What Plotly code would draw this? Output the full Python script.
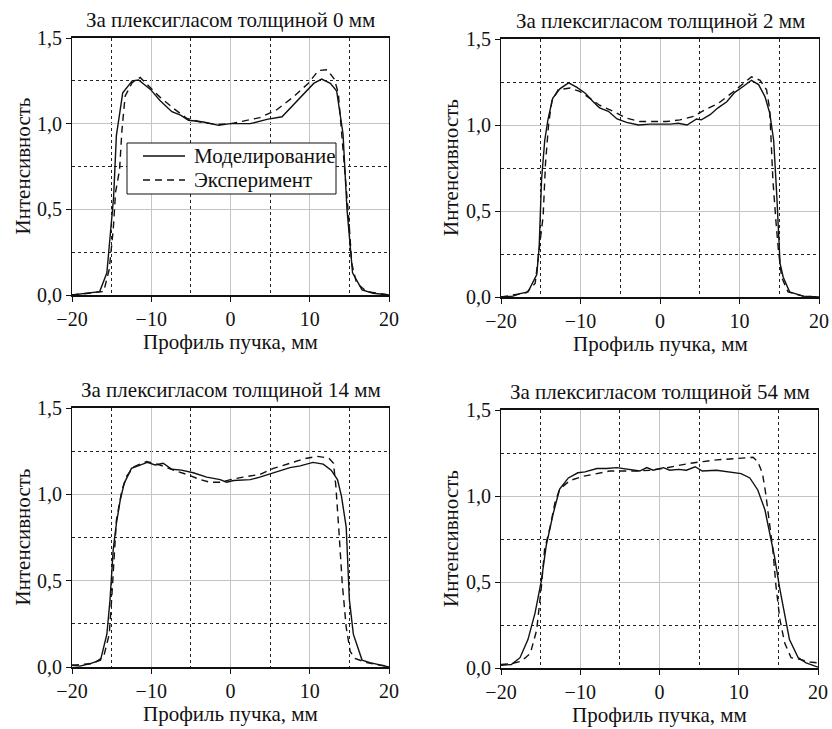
import plotly.graph_objects as go

# ---------------- data ----------------
titles = ["За плексигласом толщиной 0 мм", "За плексигласом толщиной 2 мм",
          "За плексигласом толщиной 14 мм", "За плексигласом толщиной 54 мм"]
series_names = ["Моделирование", "Эксперимент"]
x_title = "Профиль пучка, мм"
y_title = "Интенсивность"

# 0 mm
sim0_x = [-20, -18, -16.5, -15.6, -14.75, -14.4, -13.6, -12.4, -11.6, -10.1, -8.9, -7.4, -6.3, -5.3, -3.4, -1.5, 0,
          2.5, 4.6, 6.5, 8.8, 10.5, 11.5, 12.6, 13.4, 14.2, 14.7, 15.4, 16.6, 18, 20]
sim0_y = [0, 0.01, 0.02, 0.13, 0.57, 0.93, 1.18, 1.25, 1.255, 1.2, 1.135, 1.07, 1.05, 1.02, 1.01, 0.99, 1.0,
          1.0, 1.025, 1.04, 1.155, 1.235, 1.26, 1.235, 1.19, 0.94, 0.5, 0.13, 0.03, 0.01, 0]
exp0_x = [-20, -16, -15.3, -14.8, -14.5, -14.0, -13.7, -13.3, -12.4, -11.4, -10.1, -8.9, -7.2, -5.5, -3.4, -1.5, 0,
          1.8, 3.7, 5.8, 7.9, 9.8, 11.1, 12.2, 13.1, 13.6, 14.0, 14.5, 14.9, 15.3, 15.9, 17.2, 20]
exp0_y = [0, 0.02, 0.15, 0.38, 0.6, 0.73, 0.96, 1.16, 1.24, 1.27, 1.21, 1.155, 1.09, 1.03, 1.005, 0.995, 1.0,
          1.015, 1.035, 1.08, 1.155, 1.235, 1.31, 1.315, 1.26, 1.18, 0.96, 0.67, 0.46, 0.185, 0.07, 0.02, 0]

# 2 mm
sim2_x = [-20, -18.5, -17.6, -16.6, -15.5, -15.2, -14.9, -14.5, -14.1, -13.5, -12.6, -11.5, -10.5, -9.4, -8.4,
          -7.6, -6.5, -5.4, -4.2, -2.7, -1.3, 0, 1.3, 2.3, 3.4, 4.6, 5.2, 6.3, 7.3, 8.4, 9.4, 10.5, 11.5, 12.4,
          13.2, 13.8, 14.3, 14.7, 15.1, 15.5, 16.3, 18, 20]
sim2_y = [0, 0.005, 0.02, 0.03, 0.13, 0.29, 0.68, 0.91, 1.03, 1.155, 1.21, 1.245, 1.22, 1.185, 1.135,
          1.1, 1.08, 1.035, 1.015, 1.0, 1.005, 1.005, 1.005, 1.01, 1.0, 1.035, 1.03, 1.06, 1.1, 1.135, 1.19, 1.225,
          1.26, 1.235, 1.165, 1.07, 0.91, 0.58, 0.195, 0.115, 0.03, 0.005, 0]
exp2_x = [-20, -16.8, -15.7, -15.1, -14.7, -14.4, -14.0, -13.6, -12.8, -11.3, -10.1, -8.8, -7.6, -5.9, -4.2,
          -2.5, -1.0, 0.8, 2.5, 4.2, 5.7, 7.3, 9.0, 10.5, 11.5, 12.6, 13.4, 13.8, 14.0, 14.2, 14.6, 14.9, 15.3,
          16.1, 18, 20]
exp2_y = [0, 0.025, 0.08, 0.31, 0.47, 0.78, 1.01, 1.14, 1.205, 1.215, 1.195, 1.155, 1.115, 1.08, 1.04,
          1.02, 1.02, 1.02, 1.03, 1.05, 1.09, 1.125, 1.185, 1.245, 1.28, 1.26, 1.205, 1.09, 0.875, 0.68, 0.43,
          0.27, 0.115, 0.03, 0.005, 0]

# 14 mm
sim14_x = [-20, -19, -17.7, -16.4, -15.6, -15.2, -14.8, -14.4, -13.9, -13.4, -12.5, -11.4, -10.5, -9.5, -8.5,
           -7.4, -6.2, -4.7, -3.0, -1.3, -0.5, 0.4, 2.5, 3.7, 5.4, 7.5, 8.8, 10.4, 11.7, 12.7, 13.5, 14.0, 14.6,
           15.0, 15.5, 16.6, 17.6, 18.9, 20]
sim14_y = [0.01, 0.005, 0.02, 0.04, 0.19, 0.39, 0.68, 0.83, 0.97, 1.065, 1.15, 1.17, 1.185, 1.17, 1.18,
           1.145, 1.14, 1.125, 1.1, 1.085, 1.07, 1.08, 1.085, 1.1, 1.125, 1.155, 1.165, 1.185, 1.175, 1.14, 1.085,
           0.99, 0.81, 0.39, 0.19, 0.04, 0.025, 0.01, 0]
exp14_x = [-20, -17.3, -16.0, -15.3, -15.0, -14.7, -14.4, -13.7, -13.1, -12.2, -10.6, -8.9, -7.2, -5.5, -3.8,
           -2.6, -1.3, 0, 1.6, 3.7, 5.4, 7.5, 9.2, 10.9, 12.4, 13.0, 13.3, 13.7, 14.1, 14.6, 15.1, 15.7, 17.2,
           18.9, 20]
exp14_y = [0.01, 0.02, 0.06, 0.19, 0.39, 0.64, 0.85, 1.025, 1.105, 1.16, 1.19, 1.17, 1.14, 1.115, 1.085,
           1.07, 1.07, 1.085, 1.1, 1.115, 1.15, 1.18, 1.205, 1.22, 1.21, 1.18, 1.045, 0.775, 0.485, 0.23, 0.09,
           0.05, 0.025, 0.01, 0.005]

# 54 mm
sim54_x = [-20, -18.7, -17.6, -16.6, -15.7, -14.9, -14.3, -13.4, -12.6, -11.5, -10.3, -9.4, -7.9, -6.7, -5.4,
           -4.2, -2.5, -1.6, -0.8, 0.5, 1.3, 2.4, 3.4, 4.5, 5.4, 7.2, 8.9, 10.3, 11.4, 12.4, 13.3, 13.9, 14.5,
           15.2, 15.8, 16.4, 17.5, 18.5, 20]
sim54_y = [0.015, 0.02, 0.06, 0.165, 0.32, 0.51, 0.71, 0.9, 1.04, 1.105, 1.135, 1.14, 1.16, 1.16, 1.165,
           1.155, 1.145, 1.165, 1.15, 1.165, 1.15, 1.155, 1.15, 1.17, 1.145, 1.15, 1.14, 1.13, 1.105, 1.035, 0.92,
           0.785, 0.65, 0.455, 0.32, 0.165, 0.06, 0.03, 0.005]
exp54_x = [-20, -18.7, -17.4, -16.3, -15.5, -14.9, -14.5, -13.8, -13.2, -12.6, -11.3, -9.6, -7.9, -6.3, -4.6,
           -2.9, -1.2, 0.5, 2.1, 3.8, 5.5, 7.2, 8.9, 10.5, 11.8, 12.4, 13.0, 13.4, 13.8, 14.3, 14.7, 15.2, 15.8,
           16.6, 17.7, 19.0, 20]
exp54_y = [0.02, 0.025, 0.04, 0.085, 0.22, 0.475, 0.69, 0.82, 0.96, 1.04, 1.09, 1.115, 1.13, 1.145, 1.145,
           1.145, 1.15, 1.16, 1.175, 1.19, 1.2, 1.21, 1.215, 1.22, 1.225, 1.2, 1.13, 1.015, 0.88, 0.69, 0.475,
           0.28, 0.145, 0.06, 0.05, 0.035, 0.03]

x_ticks = [-20, -10, 0, 10, 20]
y_ticks = [0.0, 0.5, 1.0, 1.5]
y_ticklabels = ["0,0", "0,5", "1,0", "1,5"]

panels = [(sim0_x, sim0_y, exp0_x, exp0_y), (sim2_x, sim2_y, exp2_x, exp2_y),
          (sim14_x, sim14_y, exp14_x, exp14_y), (sim54_x, sim54_y, exp54_x, exp54_y)]

# ---------------- layout (pixels) ----------------
W, H = 832, 729
boxes = [(72, 389, 38, 295), (501, 819, 39, 297), (72, 389, 408, 667), (501, 818, 410, 668)]
FONT = "Times New Roman, Liberation Serif, DejaVu Serif, serif"
TXT = "#111"
DASH = "7px,5px"


def px(x):
    return x / W


def py(y):
    return 1 - y / H


fig = go.Figure()
layout = dict(width=W, height=H, margin=dict(l=0, r=0, t=0, b=0, autoexpand=False),
              paper_bgcolor="white", plot_bgcolor="white",
              font=dict(family=FONT, size=21, color=TXT),
              showlegend=False, annotations=[], shapes=[])

for i, (sx, sy, ex, ey) in enumerate(panels):
    k = "" if i == 0 else str(i + 1)
    fig.add_trace(go.Scatter(x=sx, y=sy, mode="lines", name=series_names[0],
                             line=dict(color=TXT, width=1.4), xaxis="x" + k, yaxis="y" + k))
    fig.add_trace(go.Scatter(x=ex, y=ey, mode="lines", name=series_names[1],
                             line=dict(color=TXT, width=1.4, dash=DASH), xaxis="x" + k, yaxis="y" + k))
    x0, x1, y0, y1 = boxes[i]
    common = dict(showline=True, mirror=True, linecolor=TXT, ticks="outside", ticklen=5,
                  tickcolor=TXT, zeroline=False, showgrid=True, gridcolor="#c4c4c4", gridwidth=1,
                  automargin=False,
                  tickfont=dict(family=FONT, size=20, color=TXT))
    layout["xaxis" + k] = dict(common, domain=[px(x0), px(x1)], range=[-20, 20], tickvals=x_ticks,
                               linewidth=2, anchor="y" + k,
                               minor=dict(dtick=5, tick0=0, showgrid=True, gridcolor="#222",
                                          griddash="dot", gridwidth=1, ticks=""))
    layout["yaxis" + k] = dict(common, domain=[py(y1), py(y0)], range=[0, 1.5],
                               tickvals=y_ticks, ticktext=y_ticklabels, linewidth=1, anchor="x" + k,
                               minor=dict(dtick=0.25, tick0=0, showgrid=True, gridcolor="#222",
                                          griddash="dot", gridwidth=1, ticks=""))
    cx = (x0 + x1) / 2
    layout["annotations"].append(dict(text=titles[i], x=px(cx), y=py(y0 - 18), xref="paper",
                                      yref="paper", showarrow=False, xanchor="center", yanchor="middle",
                                      font=dict(family=FONT, size=21, color=TXT)))
    layout["annotations"].append(dict(text=x_title, x=px(cx), y=py(y1 + 47), xref="paper",
                                      yref="paper", showarrow=False, xanchor="center", yanchor="middle",
                                      font=dict(family=FONT, size=21, color=TXT)))
    layout["annotations"].append(dict(text=y_title, x=px(x0 - 50), y=py((y0 + y1) / 2),
                                      xref="paper", yref="paper", showarrow=False, textangle=-90,
                                      xanchor="center", yanchor="middle",
                                      font=dict(family=FONT, size=21, color=TXT)))

# legend box (first panel only)
lg = dict(l=127, r=336, t=143, b=194, line_l=143, line_r=185, text_x=192, rows=[156, 180])
layout["shapes"].append(dict(type="rect", xref="paper", yref="paper",
                             x0=px(lg["l"]), x1=px(lg["r"]), y0=py(lg["b"]), y1=py(lg["t"]),
                             line=dict(color=TXT, width=1), fillcolor="white", layer="above"))
for j, name in enumerate(series_names):
    ry = lg["rows"][j]
    layout["shapes"].append(dict(type="line", xref="paper", yref="paper",
                                 x0=px(lg["line_l"]), x1=px(lg["line_r"]), y0=py(ry), y1=py(ry),
                                 line=dict(color=TXT, width=1.4, dash=("solid" if j == 0 else DASH)),
                                 layer="above"))
    layout["annotations"].append(dict(text=name, x=px(lg["text_x"]), y=py(ry), xref="paper", yref="paper",
                                      showarrow=False, xanchor="left", yanchor="middle",
                                      font=dict(family=FONT, size=21, color=TXT)))

fig.update_layout(**layout)
fig.write_html("out.html", config={"displayModeBar": False},
               post_script="document.body.style.margin='0';document.body.style.overflow='hidden';")
